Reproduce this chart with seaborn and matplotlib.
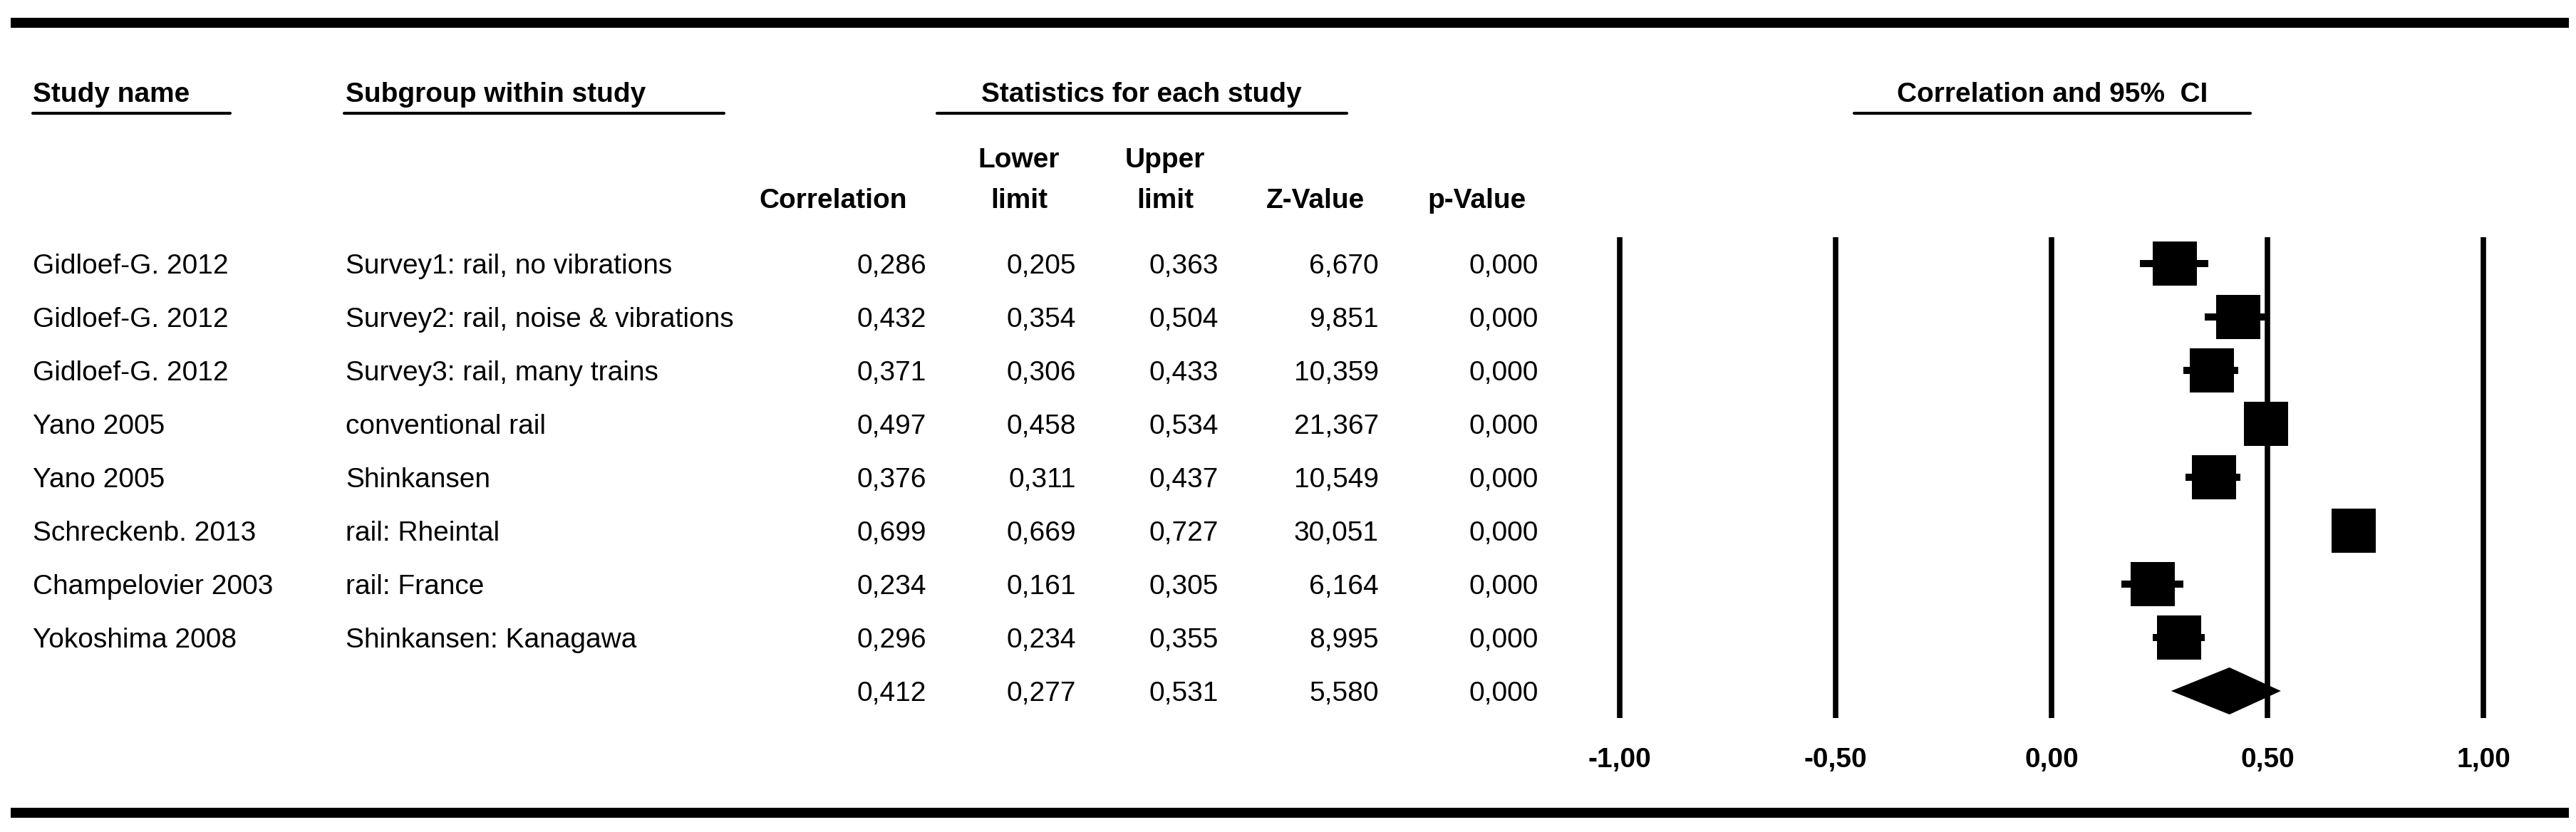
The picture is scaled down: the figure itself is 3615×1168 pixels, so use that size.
import numpy as np
import pandas as pd
import matplotlib.pyplot as plt
from matplotlib.lines import Line2D
import seaborn as sns

# table data
study_names = ['Gidloef-G. 2012', 'Gidloef-G. 2012', 'Gidloef-G. 2012', 'Yano 2005', 'Yano 2005',
               'Schreckenb. 2013', 'Champelovier 2003', 'Yokoshima 2008']
subgroups = ['Survey1: rail, no vibrations', 'Survey2: rail, noise & vibrations',
             'Survey3: rail, many trains', 'conventional rail', 'Shinkansen',
             'rail: Rheintal', 'rail: France', 'Shinkansen: Kanagawa']
correlation = [0.286, 0.432, 0.371, 0.497, 0.376, 0.699, 0.234, 0.296]
lower_limit = [0.205, 0.354, 0.306, 0.458, 0.311, 0.669, 0.161, 0.234]
upper_limit = [0.363, 0.504, 0.433, 0.534, 0.437, 0.727, 0.305, 0.355]
z_value = [6.670, 9.851, 10.359, 21.367, 10.549, 30.051, 6.164, 8.995]
p_value = [0.000, 0.000, 0.000, 0.000, 0.000, 0.000, 0.000, 0.000]

summary_corr = 0.412
summary_lower = 0.277
summary_upper = 0.531
summary_z = 5.580
summary_p = 0.000

x_ticks = [-1.0, -0.5, 0.0, 0.5, 1.0]
x_tick_labels = ['-1,00', '-0,50', '0,00', '0,50', '1,00']

sns.set_theme(style='white')
plt.rcParams['font.family'] = ['Liberation Sans', 'DejaVu Sans']
plt.rcParams['text.color'] = 'black'
plt.rcParams['xtick.color'] = 'black'
plt.rcParams['xtick.labelcolor'] = 'black'

W, H = 3615, 1168
FS = 28


def fx(x):
    return x / W


def fy(y):
    return 1 - y / H


def fmt(v):
    return f"{v:.3f}".replace('.', ',')


fig = plt.figure(figsize=(W / 100, H / 100), dpi=100)
fig.patch.set_facecolor('white')

# forest plot axes: 0 at x=2879 px, 606 px per unit, rows 75 px apart
x_lim = (-1.2, 1.2)
unit = 606
ax_left = 2879 + x_lim[0] * unit
ax_w = (x_lim[1] - x_lim[0]) * unit
row0, step = 370, 75
ax_top = row0 - 0.5 * step
ax_bot = row0 + 8.5 * step
ax = fig.add_axes([fx(ax_left), fy(ax_bot), ax_w / W, (ax_bot - ax_top) / H])

df = pd.DataFrame({'row': np.arange(len(correlation)), 'corr': correlation,
                   'lo': lower_limit, 'hi': upper_limit})

for t in x_ticks:
    ax.axvline(t, color='black', lw=5.5, zorder=1)
ax.hlines(df['row'], df['lo'], df['hi'], color='black', lw=7.2, zorder=2)
sns.scatterplot(data=df, x='corr', y='row', marker='s', s=1990, color='black',
                linewidth=0, ax=ax, zorder=3)
srow = len(correlation)
ax.fill([summary_lower, summary_corr, summary_upper, summary_corr],
        [srow, srow - 0.44, srow, srow + 0.44], color='black', lw=0, zorder=3)

ax.set_xlim(*x_lim)
ax.set_ylim(8.5, -0.5)
ax.set_xticks(x_ticks)
ax.set_xticklabels(x_tick_labels, fontsize=FS, fontweight='bold', color='black')
ax.tick_params(axis='x', length=0, pad=30)
ax.set_yticks([])
ax.set_xlabel('')
ax.set_ylabel('')
for s in ax.spines.values():
    s.set_visible(False)
ax.patch.set_alpha(0)

# thick frame bars
for yb in [32, 1141]:
    fig.add_artist(Line2D([fx(15), fx(3605)], [fy(yb), fy(yb)], color='black', lw=10.1,
                          solid_capstyle='butt'))

# group headers with underlines
hdr_base = 143
ul_y = 159
fig.text(fx(46), fy(hdr_base), 'Study name', fontsize=FS, fontweight='bold', va='baseline')
fig.text(fx(485), fy(hdr_base), 'Subgroup within study', fontsize=FS, fontweight='bold', va='baseline')
fig.text(fx(1602), fy(hdr_base), 'Statistics for each study', fontsize=FS, fontweight='bold',
         va='baseline', ha='center')
fig.text(fx(2880), fy(hdr_base), 'Correlation and 95%  CI', fontsize=FS, fontweight='bold',
         va='baseline', ha='center')
for x0, x1 in [(46, 323), (483, 1016), (1315, 1890), (2602, 3158)]:
    fig.add_artist(Line2D([fx(x0), fx(x1)], [fy(ul_y), fy(ul_y)], color='black', lw=3,
                          solid_capstyle='round'))

# column headers
col_base = 292
fig.text(fx(1273), fy(col_base), 'Correlation', fontsize=FS, fontweight='bold', va='baseline', ha='right')
fig.text(fx(1430), fy(235), 'Lower', fontsize=FS, fontweight='bold', va='baseline', ha='center')
fig.text(fx(1430), fy(col_base), 'limit', fontsize=FS, fontweight='bold', va='baseline', ha='center')
fig.text(fx(1635), fy(235), 'Upper', fontsize=FS, fontweight='bold', va='baseline', ha='center')
fig.text(fx(1635), fy(col_base), 'limit', fontsize=FS, fontweight='bold', va='baseline', ha='center')
fig.text(fx(1846), fy(col_base), 'Z-Value', fontsize=FS, fontweight='bold', va='baseline', ha='center')
fig.text(fx(2073), fy(col_base), 'p-Value', fontsize=FS, fontweight='bold', va='baseline', ha='center')

# table rows
num_right = [1300, 1510, 1710, 1935, 2159]
rows = list(zip(study_names, subgroups, correlation, lower_limit, upper_limit, z_value, p_value))
rows.append(('', '', summary_corr, summary_lower, summary_upper, summary_z, summary_p))
for i, (nm, sg, c, lo, hi, z, p) in enumerate(rows):
    yb = row0 + step * i + 14
    fig.text(fx(46), fy(yb), nm, fontsize=FS, va='baseline')
    fig.text(fx(485), fy(yb), sg, fontsize=FS, va='baseline')
    for xr, v in zip(num_right, [c, lo, hi, z, p]):
        fig.text(fx(xr), fy(yb), fmt(v), fontsize=FS, va='baseline', ha='right')

fig.savefig('out.png', dpi=100, facecolor='white')
